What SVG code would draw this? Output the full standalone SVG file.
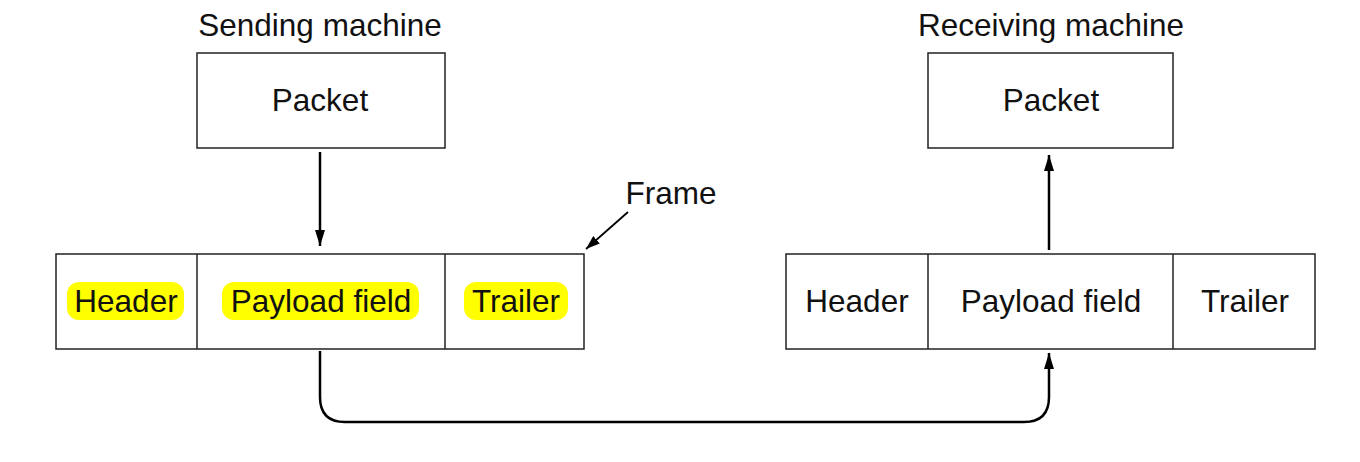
<svg xmlns="http://www.w3.org/2000/svg" width="1360" height="462" viewBox="0 0 1360 462">
<style>
.box{fill:#fff;stroke:#222;stroke-width:1.5}
.t{font-family:"Liberation Sans",Arial,sans-serif;font-size:31.5px;fill:#111;text-anchor:middle}
.hl{fill:#ffff00}
.c{fill:none;stroke:#000;stroke-width:2.5}
</style>
<defs>
<marker id="ah" viewBox="0 0 16 10" refX="16" refY="5" markerWidth="16" markerHeight="10" orient="auto" markerUnits="userSpaceOnUse"><path d="M0,0 L16,5 L0,10 z" fill="#000"/></marker>
<marker id="ah2" viewBox="0 0 14 10" refX="14" refY="5" markerWidth="14" markerHeight="10" orient="auto" markerUnits="userSpaceOnUse"><path d="M0,0 L14,5 L0,10 z" fill="#000"/></marker>
</defs>
<rect width="1360" height="462" fill="#fff"/>
<text class="t" x="320" y="36">Sending machine</text>
<text class="t" x="1051" y="36">Receiving machine</text>
<text class="t" x="671" y="204">Frame</text>
<g id="send-packet"><rect class="box" x="197" y="53" width="248" height="95"/><text class="t" x="320" y="111">Packet</text></g>
<g id="recv-packet"><rect class="box" x="928" y="53" width="245" height="95"/><text class="t" x="1051" y="111">Packet</text></g>
<g id="send-frame">
<rect class="box" x="56" y="254" width="528" height="95"/>
<line class="box" x1="197" y1="254" x2="197" y2="349"/>
<line class="box" x1="445" y1="254" x2="445" y2="349"/>
<rect class="hl" x="67" y="282" width="117" height="38" rx="12"/>
<rect class="hl" x="222" y="282" width="197" height="38" rx="12"/>
<rect class="hl" x="464" y="282" width="104" height="38" rx="12"/>
<text class="t" x="126" y="312">Header</text>
<text class="t" x="321" y="312">Payload field</text>
<text class="t" x="516" y="312">Trailer</text>
</g>
<g id="recv-frame">
<rect class="box" x="786" y="254" width="529" height="95"/>
<line class="box" x1="928" y1="254" x2="928" y2="349"/>
<line class="box" x1="1173" y1="254" x2="1173" y2="349"/>
<text class="t" x="857" y="312">Header</text>
<text class="t" x="1051" y="312">Payload field</text>
<text class="t" x="1245" y="312">Trailer</text>
</g>
<g id="connectors">
<line class="c" x1="320" y1="152" x2="320" y2="246" marker-end="url(#ah)"/>
<line class="c" x1="1049" y1="250" x2="1049" y2="155" marker-end="url(#ah)"/>
<path class="c" d="M320,351 V397 Q320,422 345,422 H1024 Q1049,422 1049,397 V353" marker-end="url(#ah)"/>
<line style="fill:none;stroke:#000;stroke-width:1.8" x1="628" y1="212" x2="586" y2="249" marker-end="url(#ah2)"/>
</g>
</svg>
